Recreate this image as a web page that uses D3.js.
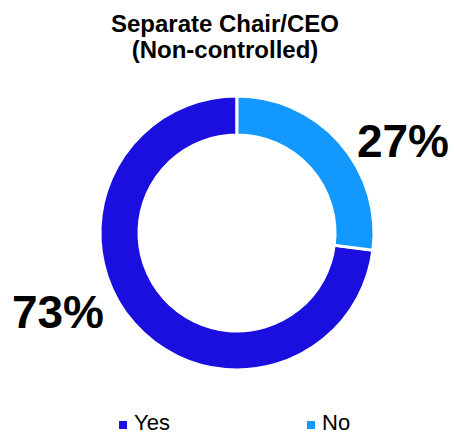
<!DOCTYPE html>
<html>
<head>
<meta charset="utf-8">
<script src="https://cdn.jsdelivr.net/npm/d3@7"></script>
<style>
  html, body { margin: 0; padding: 0; background: #fff; }
  svg { display: block; font-family: "Liberation Sans", Arial, sans-serif; }
</style>
</head>
<body>
<svg id="chart" width="454" height="435"></svg>
<script>
// Board leadership structure among non-controlled companies
const categories = ["Yes", "No"];
const values = [73, 27];
const valueLabels = ["73%", "27%"];
const colors = ["#1a0fdf", "#1399fe"];
const titleLines = ["Separate Chair/CEO", "(Non-controlled)"];

const svg = d3.select("#chart");
const cx = 237, cy = 233;
const outerR = 137, innerR = 98;

// Title
svg.append("text")
  .attr("x", 225).attr("y", 32)
  .attr("text-anchor", "middle")
  .attr("font-size", 24).attr("font-weight", "bold")
  .selectAll("tspan").data(titleLines).join("tspan")
  .attr("x", 225).attr("dy", (d, i) => i === 0 ? 0 : 26)
  .text(d => d);

// Donut: "No" slice starts at 12 o'clock going clockwise, "Yes" fills the rest
const data = categories.map((c, i) => ({ cat: c, value: values[i], label: valueLabels[i], color: colors[i] }));
const pie = d3.pie().sort(null).value(d => d.value)
  .startAngle(2 * Math.PI).endAngle(0);
const arcs = pie(data);
const arc = d3.arc().innerRadius(innerR).outerRadius(outerR);

const g = svg.append("g").attr("transform", `translate(${cx},${cy})`);
g.selectAll("path").data(arcs).join("path")
  .attr("d", arc)
  .attr("fill", d => d.data.color)
  .attr("stroke", "#fff")
  .attr("stroke-width", 3);

// Value labels
const labelPos = { "Yes": [58, 328], "No": [403, 157] };
svg.selectAll("text.val").data(data).join("text")
  .attr("class", "val")
  .attr("x", d => labelPos[d.cat][0])
  .attr("y", d => labelPos[d.cat][1])
  .attr("text-anchor", "middle")
  .attr("font-size", 46).attr("font-weight", "bold")
  .attr("fill", "#000")
  .text(d => d.label);

// Legend
const legendX = [119, 307];
const lg = svg.selectAll("g.leg").data(data).join("g")
  .attr("class", "leg")
  .attr("transform", (d, i) => `translate(${legendX[i]},430)`);
lg.append("rect").attr("x", 0).attr("y", -9).attr("width", 8).attr("height", 8)
  .attr("fill", d => d.color);
lg.append("text").attr("x", 15).attr("y", 0)
  .attr("font-size", 22).attr("fill", "#000")
  .text(d => d.cat);
</script>
</body>
</html>
